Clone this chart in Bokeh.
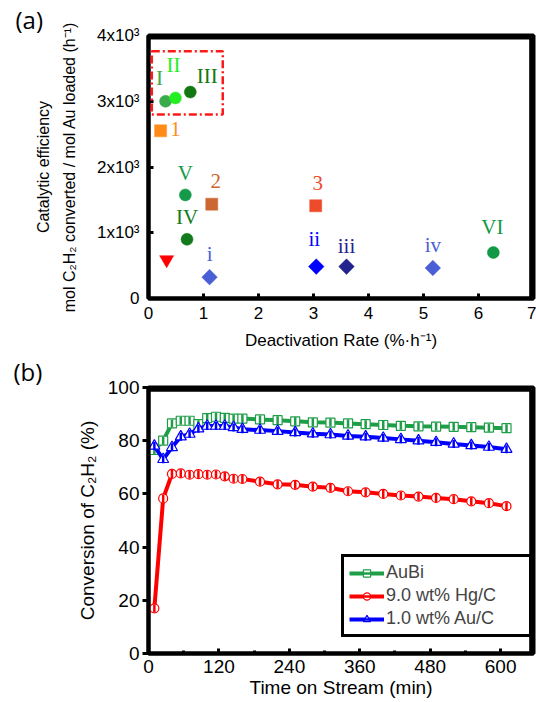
import math
from bokeh.plotting import figure
from bokeh.layouts import column
from bokeh.models import (Range1d, FixedTicker, SingleIntervalTicker, ColumnDataSource,
                          BoxAnnotation, Legend, LegendItem)
from bokeh.core.properties import value
from bokeh.embed import file_html
from bokeh.resources import INLINE

# ---------------- Panel (a) data ----------------
point_names = ["I", "II", "III", "1", "V", "2", "IV", "", "i", "3", "ii", "iii", "iv", "VI"]
deactivation_rate = [0.31, 0.49, 0.76, 0.22, 0.67, 1.15, 0.70, 0.33, 1.11, 3.04, 3.05, 3.60, 5.17, 6.27]
catalytic_eff = [3000, 3050, 3140, 2550, 1575, 1435, 900, 590, 325, 1410, 485, 485, 465, 700]
highlight_box = [0.06, 1.35, 2800, 3760]  # left, right, bottom, top
x_range_a = [0, 7]
y_range_a = [0, 4000]
x_ticks_a = [0, 1, 2, 3, 4, 5, 6, 7]
y_ticks_a = [0, 1000, 2000, 3000, 4000]
y_tick_labels_a = ["0", "1x10³", "2x10³", "3x10³", "4x10³"]

# styles for panel (a)
marker_kind = ["circle", "circle", "circle", "square", "circle", "square", "circle",
               "inverted_triangle", "diamond", "square", "diamond", "diamond", "diamond", "circle"]
point_colors = ["#3aaa4a", "#22ee22", "#117711", "#ff8c1a", "#149a4a", "#cc6633", "#137a1e",
                "#ff0000", "#4a5fd6", "#ee4b2b", "#0000ff", "#23238e", "#4a5fd6", "#129945"]
label_dx = [-6, -2, 17, 15, 0, 4, 0, 0, 0, 2, -2, 0, 0, -1]
label_dy = [-23, -33, -16, -2, -22, -23, -22, 0, -23, -23, -28, -21, -23, -25]

# ---------------- Panel (b) data ----------------
x_range_b = [0, 656]
y_range_b = [0, 100]
time_min = [10, 25, 40, 55, 70, 85, 100, 115, 130, 145, 160, 190, 220, 250, 280, 310,
            340, 370, 400, 430, 460, 490, 520, 550, 580, 610]
conv_aubi = [76.5, 80.0, 86.5, 87.5, 87.5, 86.2, 88.5, 89.0, 88.6, 88.3, 88.3, 88.0, 87.7, 87.3,
             86.9, 86.8, 86.5, 86.2, 85.9, 85.6, 85.4, 85.3, 85.2, 85.1, 84.9, 84.7]
conv_hg = [17.0, 58.3, 67.5, 67.7, 67.2, 67.4, 67.2, 67.3, 66.6, 65.7, 65.6, 64.6, 63.6, 63.4,
           62.7, 62.3, 61.0, 60.6, 60.0, 59.4, 59.0, 58.5, 58.0, 57.2, 56.5, 55.4]
conv_au = [78.0, 73.0, 77.5, 81.5, 82.5, 84.5, 85.5, 85.5, 85.5, 85.0, 84.3, 84.0, 83.6, 83.1,
           82.6, 82.3, 81.8, 81.5, 81.0, 80.5, 80.0, 79.4, 78.8, 78.2, 77.6, 76.8]
series_names = ["AuBi", "9.0 wt% Hg/C", "1.0 wt% Au/C"]
series_colors = ["#1f9e48", "#ff0000", "#0000ff"]
series_markers = ["square", "circle", "triangle"]

SERIF = value("Liberation Serif")


def style_axes(p, fs, xr, yr):
    for ax in (p.xaxis[0], p.yaxis[0]):
        ax.axis_line_width = 4
        ax.axis_line_color = "black"
        ax.major_tick_line_width = 3
        ax.major_tick_line_color = "black"
        ax.minor_tick_line_width = 3
        ax.minor_tick_line_color = "black"
        ax.major_label_text_font = "Liberation Sans"
        ax.major_label_text_font_size = fs
        ax.axis_label_text_font = "Liberation Sans"
        ax.axis_label_text_font_style = "normal"
        ax.axis_label_text_font_size = fs
        ax.major_label_text_color = "black"
        ax.axis_label_text_color = "black"
    p.xgrid.visible = False
    p.ygrid.visible = False
    p.outline_line_color = "black"
    p.outline_line_width = 4
    # top and right frame edges, drawn just inside the range limits
    top = yr[1] - 0.008 * (yr[1] - yr[0])
    right = xr[1] - 0.006 * (xr[1] - xr[0])
    p.segment(x0=[xr[0], right], y0=[top, yr[0]], x1=[right, right], y1=[top, top],
              line_color="black", line_width=4)


def panel_title(p, text, offset):
    p.title.text = text
    p.title.align = "left"
    p.title.offset = offset
    p.title.standoff = 0
    p.title.text_font = "Open Sans"
    p.title.text_font_size = "24px"
    p.title.text_font_style = "normal"
    p.title.text_color = "black"


# ================= Panel (a) =================
pA = figure(width=536, height=352, x_range=Range1d(*x_range_a), y_range=Range1d(*y_range_a),
            output_backend="svg", toolbar_location=None,
            min_border_left=145, min_border_right=3, min_border_top=33, min_border_bottom=52)
style_axes(pA, "17px", x_range_a, y_range_a)
panel_title(pA, "(a)", -133)
pA.xaxis[0].ticker = FixedTicker(ticks=x_ticks_a)
pA.yaxis[0].ticker = FixedTicker(ticks=y_ticks_a)
pA.yaxis[0].major_label_overrides = dict(zip(y_ticks_a, y_tick_labels_a))
for ax in (pA.xaxis[0], pA.yaxis[0]):
    ax.major_tick_in = 5
    ax.major_tick_out = 0
    ax.minor_tick_in = 0
    ax.minor_tick_out = 0
pA.xaxis[0].major_label_standoff = 8
pA.yaxis[0].major_label_standoff = 9
pA.xaxis[0].axis_label = "Deactivation Rate (%·h⁻¹)"
pA.xaxis[0].axis_label_standoff = 9
pA.yaxis[0].axis_label = "Catalytic efficiency\nmol C₂H₂ converted / mol Au loaded (h⁻¹)"
pA.yaxis[0].axis_label_text_font_size = "16px"
pA.yaxis[0].axis_label_text_line_height = 1.55
pA.yaxis[0].axis_label_standoff = 16

srcA = ColumnDataSource(dict(
    x=deactivation_rate, y=catalytic_eff, name=point_names, marker=marker_kind,
    color=point_colors, dx=label_dx, dy=label_dy,
    angle=[math.pi / 4 if m == "diamond" else 0.0 for m in marker_kind],
    mk=["square" if m == "diamond" else m for m in marker_kind],
    size=[11 if m == "diamond" else (14 if m == "inverted_triangle" else 12) for m in marker_kind],
))
pA.scatter("x", "y", source=srcA, marker="mk", angle="angle", size="size",
           fill_color="color", line_color="color", line_width=0.5)
pA.text("x", "y", text="name", source=srcA, x_offset="dx", y_offset="dy",
        text_color="color", text_font=SERIF, text_font_size="21px",
        text_align="center", text_baseline="middle")

box = BoxAnnotation(left=highlight_box[0], right=highlight_box[1],
                    bottom=highlight_box[2], top=highlight_box[3],
                    fill_alpha=0, line_color="#ff1a1a", line_alpha=1.0,
                    line_width=2.5, line_dash="8 3 2 3")
pA.add_layout(box)

# ================= Panel (b) =================
pB = figure(width=536, height=348, x_range=Range1d(*x_range_b), y_range=Range1d(*y_range_b),
            output_backend="svg", toolbar_location=None,
            min_border_left=148, min_border_right=3, min_border_top=35, min_border_bottom=47)
style_axes(pB, "19px", x_range_b, y_range_b)
panel_title(pB, "(b)", -135)
pB.xaxis[0].ticker = SingleIntervalTicker(interval=120, num_minor_ticks=2)
pB.yaxis[0].ticker = SingleIntervalTicker(interval=20, num_minor_ticks=0)
pB.xaxis[0].major_tick_in = 5
pB.xaxis[0].major_tick_out = 0
pB.xaxis[0].minor_tick_in = 3
pB.xaxis[0].minor_tick_out = 0
pB.yaxis[0].major_tick_in = 0
pB.yaxis[0].major_tick_out = 6
pB.yaxis[0].minor_tick_in = 0
pB.yaxis[0].minor_tick_out = 0
pB.xaxis[0].major_label_standoff = 6
pB.yaxis[0].major_label_standoff = 3
pB.xaxis[0].axis_label = "Time on Stream (min)"
pB.xaxis[0].axis_label_standoff = 1
pB.yaxis[0].axis_label = "Conversion of C₂H₂ (%)"
pB.yaxis[0].axis_label_standoff = 7

items = []
for name, ys, col, mk in zip(series_names, [conv_aubi, conv_hg, conv_au], series_colors, series_markers):
    src = ColumnDataSource(dict(t=time_min, v=ys))
    r1 = pB.line("t", "v", source=src, line_color=col, line_width=4)
    r2 = pB.scatter("t", "v", source=src, marker=mk, size=9 if mk != "triangle" else 11,
                    fill_color="white", line_color=col, line_width=1.2)
    r3 = pB.scatter("t", "v", source=src, marker="dash", angle=math.pi / 2, size=8,
                    line_color=col, line_width=2.5)
    items.append(LegendItem(label=name, renderers=[r1, r2, r3]))

legend = Legend(items=items, location=(193, 16), border_line_color="black", border_line_width=3,
                border_line_alpha=1.0, padding=5, spacing=2, label_standoff=2,
                glyph_width=35, glyph_height=18,
                label_text_font="Liberation Sans", label_text_font_size="18px", label_width=138,
                label_height=18, margin=0, background_fill_alpha=1)
pB.add_layout(legend)

layout = column(pA, pB)
open("out.html", "w").write(file_html(layout, INLINE))
